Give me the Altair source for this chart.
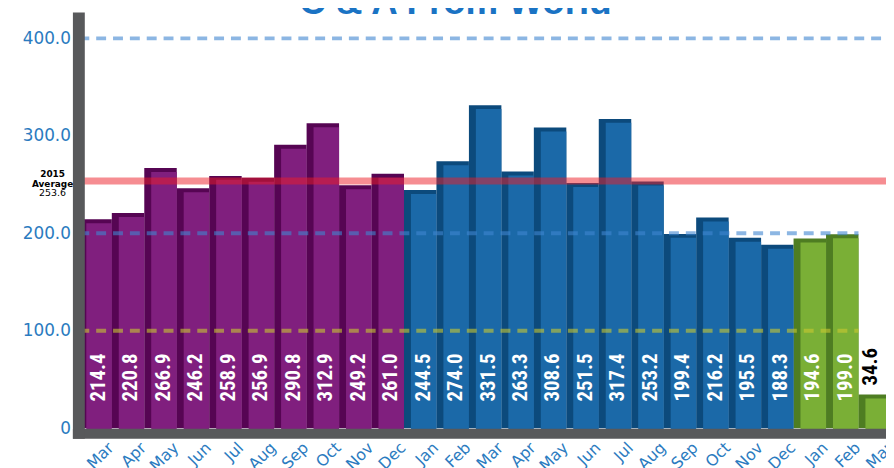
import altair as alt
import pandas as pd

# ---------------- data ----------------
months = ["Mar", "Apr", "May", "Jun", "Jul", "Aug", "Sep", "Oct", "Nov", "Dec",
          "Jan", "Feb", "Mar", "Apr", "May", "Jun", "Jul", "Aug", "Sep", "Oct", "Nov", "Dec",
          "Jan", "Feb", "Mar"]
years = ["2015"] * 10 + ["2016"] * 12 + ["2017"] * 3
values = [214.4, 220.8, 266.9, 246.2, 258.9, 256.9, 290.8, 312.9, 249.2, 261.0,
          244.5, 274.0, 331.5, 263.3, 308.6, 251.5, 317.4, 253.2, 199.4, 216.2, 195.5, 188.3,
          194.6, 199.0, 34.6]
year_domain = ["2015", "2016", "2017"]
front_colors = ["#801f7e", "#1b69a8", "#7aaf36"]
side_colors = ["#560553", "#0c4a7c", "#4e7d22"]

avg_year = "2015"
avg_value = 253.6

ref_levels = [400, 200]
ref_ends = ["Mar 2017", "Feb 2017"]
low_level = [100]
low_end = ["Feb 2017"]

y_ticks = [0, 100, 200, 300, 400]

ids = [f"{m} {y}" for m, y in zip(months, years)]
df = pd.DataFrame({"id": ids, "month": months, "yr": years, "value": values})
rules_df = pd.DataFrame({"level": ref_levels, "start": [ids[0]] * len(ref_levels), "end": ref_ends})
low_df = pd.DataFrame({"level": low_level, "start": [ids[0]] * len(low_level), "end": low_end})
avg_df = pd.DataFrame({"avg": [avg_value], "year": [avg_year],
                       "label": [f"{avg_value:.1f}"]})

BLUE_TXT = "#2b7bc0"
LBL_FONT = "Roboto Condensed, DejaVu Sans Condensed, Roboto"

x_scale = alt.Scale(domain=ids, range=[-6, 827], paddingInner=0, paddingOuter=0.2137)
y_scale = alt.Scale(domain=[-10.2, 427], nice=False, zero=False)

x_axis = alt.Axis(
    title=None, labelAngle=-45, labelAlign="right", labelBaseline="top",
    labelExpr="split(datum.label, ' ')[0]", labelFont="DejaVu Sans", labelFontSize=16,
    labelColor=BLUE_TXT, labelPadding=6, labelOffset=10, ticks=False, tickSize=0,
    domainColor="#58595b", domainWidth=10, offset=-5, zindex=1, grid=False,
)
y_axis = alt.Axis(
    title=None, values=y_ticks, labelExpr="datum.value == 0 ? '0' : format(datum.value, '.1f')",
    labelFont="DejaVu Sans", labelFontSize=17, labelColor=BLUE_TXT, labelPadding=8,
    ticks=False, tickSize=0, domainColor="#58595b", domainWidth=12, zindex=1, grid=False,
)

X = lambda f: alt.X(f"{f}:N", sort=ids, scale=x_scale, axis=x_axis, title=None)
Y = lambda f: alt.Y(f"{f}:Q", scale=y_scale, axis=y_axis, title=None)

side = alt.Chart(df).mark_bar().encode(
    x=X("id"), y=Y("value"),
    color=alt.Color("yr:N", scale=alt.Scale(domain=year_domain, range=side_colors), legend=None),
)
front = alt.Chart(df).mark_bar(width=alt.RelativeBandSize(0.786), xOffset=3.5, yOffset=4).encode(
    x=X("id"), y=Y("value"),
    fill=alt.Fill("yr:N", scale=alt.Scale(domain=year_domain, range=front_colors), legend=None),
)

blue_rules = alt.Chart(rules_df).mark_rule(
    color="#3f86d0", opacity=0.6, strokeWidth=4, strokeDash=[10, 7]
).encode(x=alt.X("start:N", sort=ids, scale=x_scale, axis=x_axis, bandPosition=0),
         x2=alt.X2("end:N", bandPosition=1), y=Y("level"))
low_rules = alt.Chart(low_df).mark_rule(
    color="#c8c832", opacity=0.6, strokeWidth=4, strokeDash=[10, 7]
).encode(x=alt.X("start:N", sort=ids, scale=x_scale, axis=x_axis, bandPosition=0),
         x2=alt.X2("end:N", bandPosition=1), y=Y("level"))

avg_rule = alt.Chart(avg_df).mark_rule(color="#ee1c25", opacity=0.5, strokeWidth=7).encode(
    y=Y("avg"))

avg_t1 = alt.Chart(avg_df).mark_text(font="DejaVu Sans", fontSize=9, fontWeight="bold",
                                     color="black", yOffset=-7).encode(
    x=alt.value(-26), y=Y("avg"), text="year:N")
avg_t2 = alt.Chart(avg_df).mark_text(font="DejaVu Sans", fontSize=9, fontWeight="bold",
                                     color="black", yOffset=3).encode(
    x=alt.value(-26), y=Y("avg"), text=alt.value("Average"))
avg_t3 = alt.Chart(avg_df).mark_text(font="DejaVu Sans", fontSize=9.5,
                                     color="black", yOffset=12).encode(
    x=alt.value(-26), y=Y("avg"), text="label:N")

inside = alt.Chart(df).transform_filter(alt.datum.value >= 100).mark_text(
    font=LBL_FONT, fontSize=21, fontWeight="bold", color="white",
    angle=270, align="left", baseline="middle", xOffset=3.5, yOffset=-27,
).encode(x=X("id"), y=alt.Y(datum=0, type="quantitative", scale=y_scale, axis=y_axis),
         text=alt.Text("value:Q", format=".1f"))
outside = alt.Chart(df).transform_filter(alt.datum.value < 100).mark_text(
    font=LBL_FONT, fontSize=21, fontWeight="bold", color="black",
    angle=270, align="left", baseline="middle", xOffset=-4, yOffset=-9,
).encode(x=X("id"), y=Y("value"), text=alt.Text("value:Q", format=".1f"))

chart = alt.layer(
    side, front, blue_rules, low_rules, avg_rule, inside, outside, avg_t1, avg_t2, avg_t3
).resolve_scale(
    color="independent", fill="independent"
).properties(
    width=815, height=430,
    autosize=alt.AutoSizeParams(type="none"),
    padding={"left": 71, "top": 2, "right": 0, "bottom": 28},
    title=alt.TitleParams("C & A From World", font="Liberation Sans", fontSize=37,
                          fontWeight="bold", color="#1a73c4", anchor="middle",
                          frame="group", dx=-27, offset=-10),
).configure_view(stroke=None)

chart.save("out.html", embed_options={"renderer": "svg", "actions": False})
